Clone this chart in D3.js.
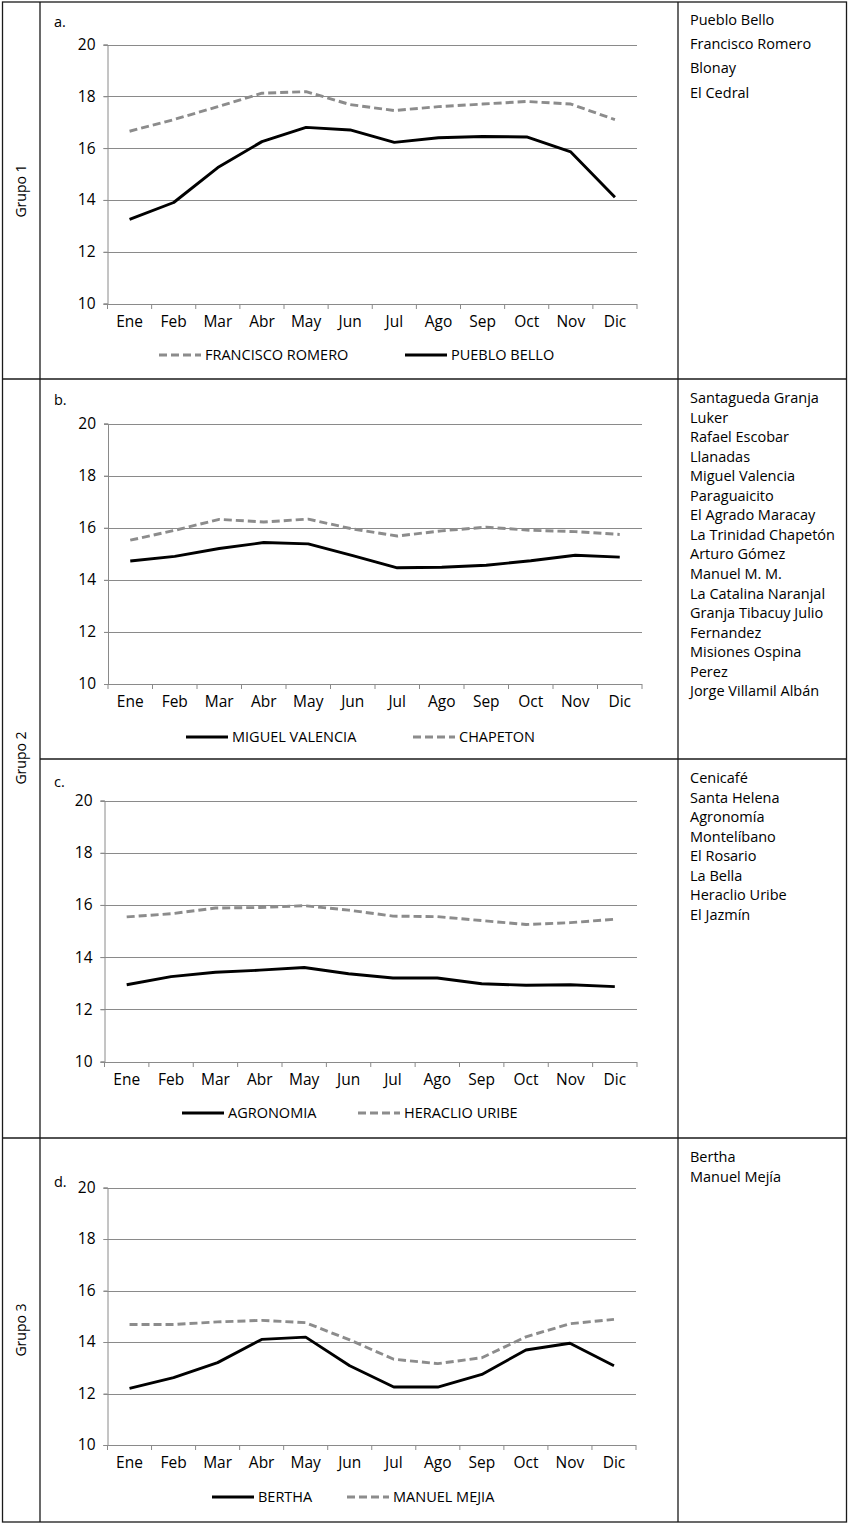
<!DOCTYPE html>
<html lang="es">
<head>
<meta charset="UTF-8">
<title>Temperatura media mensual por grupo</title>
<script src="https://d3js.org/d3.v7.min.js"></script>
<style>
    body { margin: 0; background: #fff; }
    svg text { font-family: "Open Sans", "Noto Sans", sans-serif; fill: #000; }
    .grid line { stroke: #8a8a8a; stroke-width: 1; }
    .axis path, .axis line { stroke: #8a8a8a; }
    .frame { stroke: #1a1a1a; stroke-width: 1.3; fill: none; }
</style>
</head>
<body>
<div id="chart"></div>
<script>
    const months = ["Ene", "Feb", "Mar", "Abr", "May", "Jun", "Jul", "Ago", "Sep", "Oct", "Nov", "Dic"];
    const yTicks = [10, 12, 14, 16, 18, 20];

    // a. Grupo 1
    const franciscoRomero = [16.65, 17.1, 17.6, 18.12, 18.18, 17.68, 17.45, 17.6, 17.7, 17.8, 17.7, 17.1];
    const puebloBello = [13.25, 13.9, 15.25, 16.25, 16.8, 16.7, 16.22, 16.4, 16.45, 16.43, 15.85, 14.1];
    // b. Grupo 2
    const miguelValencia = [14.72, 14.9, 15.2, 15.43, 15.38, 14.93, 14.46, 14.48, 14.56, 14.73, 14.94, 14.87];
    const chapeton = [15.52, 15.9, 16.32, 16.22, 16.33, 15.95, 15.68, 15.88, 16.02, 15.9, 15.85, 15.74];
    // c. Grupo 2
    const agronomia = [12.94, 13.25, 13.42, 13.5, 13.6, 13.36, 13.2, 13.2, 12.98, 12.92, 12.94, 12.87];
    const heraclioUribe = [15.54, 15.66, 15.88, 15.9, 15.97, 15.8, 15.57, 15.55, 15.4, 15.25, 15.32, 15.45];
    // d. Grupo 3
    const bertha = [12.2, 12.62, 13.2, 14.1, 14.19, 13.08, 12.25, 12.25, 12.74, 13.69, 13.95, 13.08];
    const manuelMejia = [14.68, 14.68, 14.78, 14.84, 14.75, 14.08, 13.33, 13.16, 13.39, 14.2, 14.71, 14.88];

    const stationsA = ["Pueblo Bello", "Francisco Romero", "Blonay", "El Cedral"];
    const stationsB = ["Santagueda Granja", "Luker", "Rafael Escobar", "Llanadas", "Miguel Valencia",
        "Paraguaicito", "El Agrado Maracay", "La Trinidad Chapetón", "Arturo Gómez", "Manuel M. M.",
        "La Catalina Naranjal", "Granja Tibacuy Julio", "Fernandez", "Misiones Ospina", "Perez",
        "Jorge Villamil Albán"];
    const stationsC = ["Cenicafé", "Santa Helena", "Agronomía", "Montelíbano", "El Rosario", "La Bella",
        "Heraclio Uribe", "El Jazmín"];
    const stationsD = ["Bertha", "Manuel Mejía"];

    const groupLabels = ["Grupo 1", "Grupo 2", "Grupo 3"];

    const solid = { stroke: "#000", dash: null };
    const dashed = { stroke: "#8c8c8c", dash: "8,4" };

    const width = 850, height = 1525;
    const svg = d3.select("#chart").append("svg")
        .attr("width", width)
        .attr("height", height);

    // table frame
    const L = 2.5, R = 846.5, T = 2, B = 1522;
    const colA = 40, colC = 678;
    svg.append("rect").attr("class", "frame")
        .attr("x", L).attr("y", T).attr("width", R - L).attr("height", B - T);
    [[colA, T, colA, B], [colC, T, colC, B], [L, 379, R, 379], [colA, 759, R, 759], [L, 1138, R, 1138]]
        .forEach(s => svg.append("line").attr("class", "frame")
            .attr("x1", s[0]).attr("y1", s[1]).attr("x2", s[2]).attr("y2", s[3]));

    // group labels (rotated)
    [[groupLabels[0], 191], [groupLabels[1], 758], [groupLabels[2], 1330]].forEach(g => {
        svg.append("text")
            .attr("transform", `translate(26,${g[1]}) rotate(-90)`)
            .attr("text-anchor", "middle")
            .style("font-size", "14px")
            .text(g[0]);
    });

    const panels = [
        { tag: "a.", tagY: 27, top: 44.5, bottom: 303.5, left: 107.5, right: 637,
          series: [{ name: "FRANCISCO ROMERO", values: franciscoRomero, style: dashed, lx: 159 },
                   { name: "PUEBLO BELLO", values: puebloBello, style: solid, lx: 405 }],
          legendY: 355, stations: stationsA, stY: 25, stStep: 24.2 },
        { tag: "b.", tagY: 405, top: 423.5, bottom: 684, left: 108, right: 642,
          series: [{ name: "MIGUEL VALENCIA", values: miguelValencia, style: solid, lx: 186 },
                   { name: "CHAPETON", values: chapeton, style: dashed, lx: 413 }],
          legendY: 737, stations: stationsB, stY: 403, stStep: 19.55 },
        { tag: "c.", tagY: 787, top: 800.5, bottom: 1061.5, left: 104.5, right: 637,
          series: [{ name: "AGRONOMIA", values: agronomia, style: solid, lx: 182 },
                   { name: "HERACLIO URIBE", values: heraclioUribe, style: dashed, lx: 358 }],
          legendY: 1113, stations: stationsC, stY: 783, stStep: 19.55 },
        { tag: "d.", tagY: 1187, top: 1187.5, bottom: 1445, left: 107.5, right: 636,
          series: [{ name: "BERTHA", values: bertha, style: solid, lx: 212 },
                   { name: "MANUEL MEJIA", values: manuelMejia, style: dashed, lx: 347 }],
          legendY: 1497, stations: stationsD, stY: 1162, stStep: 19.6 }
    ];

    panels.forEach(p => {
        const g = svg.append("g");

        const x = d3.scaleBand().domain(months).range([p.left, p.right]);
        const y = d3.scaleLinear().domain([10, 20]).range([p.bottom, p.top]);

        g.append("text").attr("x", 54).attr("y", p.tagY)
            .style("font-size", "14.5px").text(p.tag);

        // horizontal grid
        g.append("g").attr("class", "grid")
            .selectAll("line").data(yTicks).enter().append("line")
            .attr("x1", p.left - 4).attr("x2", p.right)
            .attr("y1", d => Math.round(y(d)) + 0.5).attr("y2", d => Math.round(y(d)) + 0.5);

        // y axis
        const yAxis = d3.axisLeft(y).tickValues(yTicks).tickSize(4).tickPadding(8);
        const ya = g.append("g").attr("class", "axis")
            .attr("transform", `translate(${p.left},0)`)
            .call(yAxis);
        ya.selectAll("text").style("font-size", "15.5px").attr("fill", "#000");

        // x axis with ticks at band edges
        const xa = g.append("g").attr("class", "axis")
            .attr("transform", `translate(0,${Math.round(p.bottom) + 0.5})`)
            .call(d3.axisBottom(x).tickSize(0).tickPadding(11));
        xa.select(".domain").remove();
        xa.selectAll("text").style("font-size", "15.5px").attr("fill", "#000");
        g.append("g").attr("class", "axis")
            .selectAll("line").data(d3.range(13)).enter().append("line")
            .attr("x1", i => p.left + i * x.step()).attr("x2", i => p.left + i * x.step())
            .attr("y1", Math.round(p.bottom)).attr("y2", Math.round(p.bottom) + 5);
        g.append("line").attr("stroke", "#8a8a8a")
            .attr("x1", p.left).attr("x2", p.right)
            .attr("y1", Math.round(p.bottom) + 0.5).attr("y2", Math.round(p.bottom) + 0.5);

        // series lines
        const line = d3.line()
            .x((d, i) => x(months[i]) + x.bandwidth() / 2)
            .y(d => y(d));
        p.series.forEach(s => {
            g.append("path")
                .datum(s.values)
                .attr("fill", "none")
                .attr("stroke", s.style.stroke)
                .attr("stroke-width", 2.9)
                .attr("stroke-dasharray", s.style.dash)
                .attr("stroke-linejoin", "round")
                .attr("d", line);

            // legend item
            g.append("line")
                .attr("x1", s.lx).attr("x2", s.lx + 42)
                .attr("y1", p.legendY).attr("y2", p.legendY)
                .attr("stroke", s.style.stroke)
                .attr("stroke-width", 3)
                .attr("stroke-dasharray", s.style.dash);
            g.append("text")
                .attr("x", s.lx + 46).attr("y", p.legendY + 5)
                .style("font-size", "14.5px")
                .text(s.name);
        });

        // station list
        g.append("g").selectAll("text").data(p.stations).enter().append("text")
            .attr("x", 690)
            .attr("y", (d, i) => p.stY + i * p.stStep)
            .style("font-size", "14.5px")
            .text(d => d);
    });
</script>
</body>
</html>
